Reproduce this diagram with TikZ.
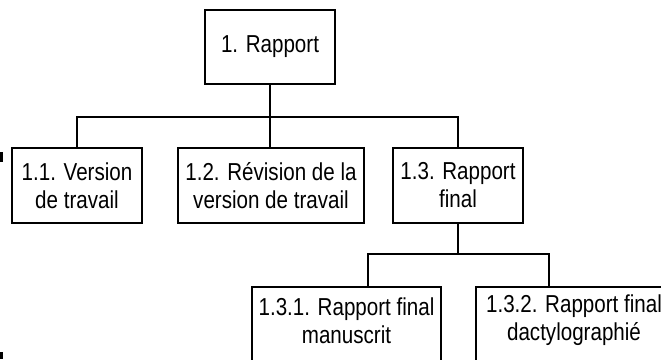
\documentclass[tikz,border=0pt]{standalone}
\usepackage{fontspec}
\setmainfont{Liberation Sans}[FakeStretch=0.84]
\begin{document}
\begin{tikzpicture}[x=1pt,y=-1pt,
  txt/.style={align=center,inner sep=0pt,
    font=\fontsize{24.5}{28}\selectfont},
  box/.style={txt,draw,line width=1.1pt},
  link/.style={line width=1.1pt}]
\useasboundingbox (0,0) rectangle (661,359);
\clip (0,0) rectangle (661,359);
\node[box,minimum width=130pt,minimum height=74pt] (top) at (270,47) {1. Rapport};
\node[box,minimum width=130pt,minimum height=75pt] (n11) at (77,185.5) {1.1. Version\\de travail};
\node[box,minimum width=186pt,minimum height=75pt] (n12) at (271,185.5) {1.2. Révision de la\\version de travail};
\node[box,minimum width=130pt,minimum height=75pt] (n13) at (458,185.5) {1.3. Rapport\\final};
\node[box,minimum width=189pt,minimum height=75pt] (n131) at (346.5,324.5) {};
\node[txt] (t131) at (346.5,320.5) {1.3.1. Rapport final\\manuscrit};
\node[box,minimum width=189pt,minimum height=75pt] (n132) at (570.5,324.5) {};
\node[txt] (t132) at (574,320.5) {1.3.2. Rapport final\\dactylographié};
\coordinate (j1) at (270,117);
\coordinate (j2) at (458,254);
\coordinate (d1) at (368,287);
\coordinate (d2) at (549,287);
\draw[link] (top.south) -- (j1);
\draw[link] (n11.north) -- (n11.north |- j1) -- (n13.north |- j1) -- (n13.north);
\draw[link] (j1) -- (j1 |- n12.north);
\draw[link] (n13.south) -- (j2);
\draw[link] (d1) -- (d1 |- j2) -- (d2 |- j2) -- (d2);
\fill (0,152) rectangle (3,162);
\fill (0,352) rectangle (3,359);
\end{tikzpicture}
\end{document}
